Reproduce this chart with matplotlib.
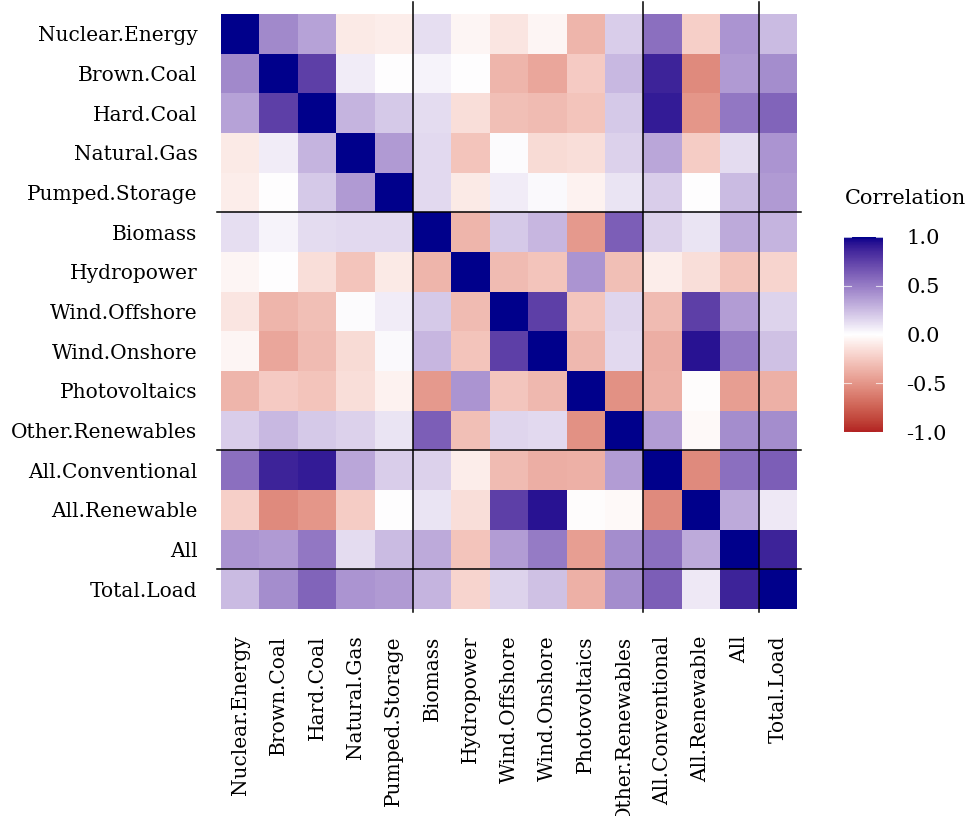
import numpy as np
import matplotlib
matplotlib.use("Agg")
import matplotlib.pyplot as plt
from matplotlib.colors import ListedColormap

plt.rcParams["font.family"] = ["DejaVu Serif"]

labels = ["Nuclear.Energy", "Brown.Coal", "Hard.Coal", "Natural.Gas", "Pumped.Storage",
          "Biomass", "Hydropower", "Wind.Offshore", "Wind.Onshore", "Photovoltaics",
          "Other.Renewables", "All.Conventional", "All.Renewable", "All", "Total.Load"]

# upper triangle (row i, columns i+1..14)
upper = [
    [0.45, 0.35, -0.10, -0.08, 0.12, -0.04, -0.12, -0.04, -0.35, 0.18, 0.55, -0.22, 0.40, 0.25],
    [0.75, 0.07, 0.00, 0.04, 0.00, -0.35, -0.42, -0.25, 0.26, 0.87, -0.55, 0.38, 0.43],
    [0.28, 0.20, 0.13, -0.15, -0.30, -0.32, -0.28, 0.20, 0.90, -0.50, 0.52, 0.60],
    [0.38, 0.14, -0.28, 0.01, -0.17, -0.15, 0.17, 0.33, -0.24, 0.13, 0.40],
    [0.14, -0.10, 0.07, 0.02, -0.06, 0.10, 0.18, 0.00, 0.25, 0.38],
    [-0.35, 0.20, 0.27, -0.48, 0.62, 0.17, 0.10, 0.32, 0.28],
    [-0.32, -0.28, 0.40, -0.30, -0.08, -0.15, -0.28, -0.20],
    [0.75, -0.27, 0.15, -0.32, 0.75, 0.37, 0.16],
    [-0.33, 0.14, -0.38, 0.93, 0.50, 0.23],
    [-0.52, -0.37, -0.01, -0.46, -0.37],
    [0.37, -0.03, 0.43, 0.43],
    [-0.55, 0.55, 0.62],
    [0.32, 0.08],
    [0.87],
]

n = len(labels)
corr = np.eye(n)
for i, row in enumerate(upper):
    for k, v in enumerate(row):
        corr[i, i + 1 + k] = v
        corr[i + 1 + k, i] = v

group_breaks = [5, 11, 14]


# diverging ramp in CIELAB, like ggplot's gradient2 (firebrick - white - darkblue)
def srgb_to_lab(rgb):
    c = np.asarray(rgb, float) / 255
    c = np.where(c > 0.04045, ((c + 0.055) / 1.055) ** 2.4, c / 12.92)
    m = np.array([[0.4124, 0.3576, 0.1805], [0.2126, 0.7152, 0.0722], [0.0193, 0.1192, 0.9505]])
    xyz = m @ c / np.array([0.95047, 1.0, 1.08883])
    f = np.where(xyz > 0.008856, np.cbrt(xyz), 7.787 * xyz + 16 / 116)
    return np.array([116 * f[1] - 16, 500 * (f[0] - f[1]), 200 * (f[1] - f[2])])


def lab_to_srgb(lab):
    L, a, b = lab
    fy = (L + 16) / 116
    fx = fy + a / 500
    fz = fy - b / 200
    f = np.array([fx, fy, fz])
    xyz = np.where(f ** 3 > 0.008856, f ** 3, (f - 16 / 116) / 7.787) * np.array([0.95047, 1.0, 1.08883])
    m = np.array([[3.2406, -1.5372, -0.4986], [-0.9689, 1.8758, 0.0415], [0.0557, -0.2040, 1.0570]])
    c = m @ xyz
    c = np.where(c > 0.0031308, 1.055 * np.clip(c, 0, None) ** (1 / 2.4) - 0.055, 12.92 * c)
    return np.clip(c, 0, 1)


low, mid, high = srgb_to_lab((178, 34, 34)), srgb_to_lab((255, 255, 255)), srgb_to_lab((0, 0, 139))
ramp = []
for t in np.linspace(-1, 1, 256):
    lab = mid + (low - mid) * (-t) if t < 0 else mid + (high - mid) * t
    ramp.append(lab_to_srgb(lab))
cmap = ListedColormap(ramp)

W, H = 973, 816
fig = plt.figure(figsize=(W / 100, H / 100), dpi=100)
ax = fig.add_axes([221 / W, 1 - 609 / H, (797 - 221) / W, (609 - 14) / H])
im = ax.imshow(corr, cmap=cmap, vmin=-1, vmax=1, aspect="auto", interpolation="nearest")

ax.set_xticks(range(n))
ax.set_yticks(range(n))
ax.set_xticklabels(labels, rotation=90, fontsize=14.5)
ax.set_yticklabels(labels, fontsize=14.5)
ax.tick_params(length=0, pad=17)
ax.tick_params(axis="x", pad=19)
for s in ax.spines.values():
    s.set_visible(False)

for b in group_breaks:
    ax.plot([b - 0.5, b - 0.5], [n - 0.5 + 0.08, -0.5 - 0.3], color="black", lw=1.1, clip_on=False)
    ax.plot([-0.6, n - 0.4], [b - 0.5, b - 0.5], color="black", lw=1.1, clip_on=False)
ax.set_xlim(-0.5, n - 0.5)
ax.set_ylim(n - 0.5, -0.5)

# colorbar
cax = fig.add_axes([844 / W, 1 - 432 / H, 39 / W, (432 - 237) / H])
cb = fig.colorbar(im, cax=cax, ticks=[-1, -0.5, 0, 0.5, 1])
cb.outline.set_visible(False)
cb.ax.set_yticklabels(["-1.0", "-0.5", "0.0", "0.5", "1.0"], fontsize=15)
cb.ax.tick_params(length=0, pad=17)
for v in [-1, -0.5, 0, 0.5, 1]:
    cax.plot([0, 0.18], [v, v], color="white", lw=0.8, alpha=0.7)
    cax.plot([0.82, 1], [v, v], color="white", lw=0.8, alpha=0.7)
cax.set_xlim(0, 1)
cax.set_ylim(-1, 1)
fig.text(845 / W, 1 - 198 / H, "Correlation", fontsize=15, ha="left", va="center")

fig.savefig("out.png", dpi=100, facecolor="white")
